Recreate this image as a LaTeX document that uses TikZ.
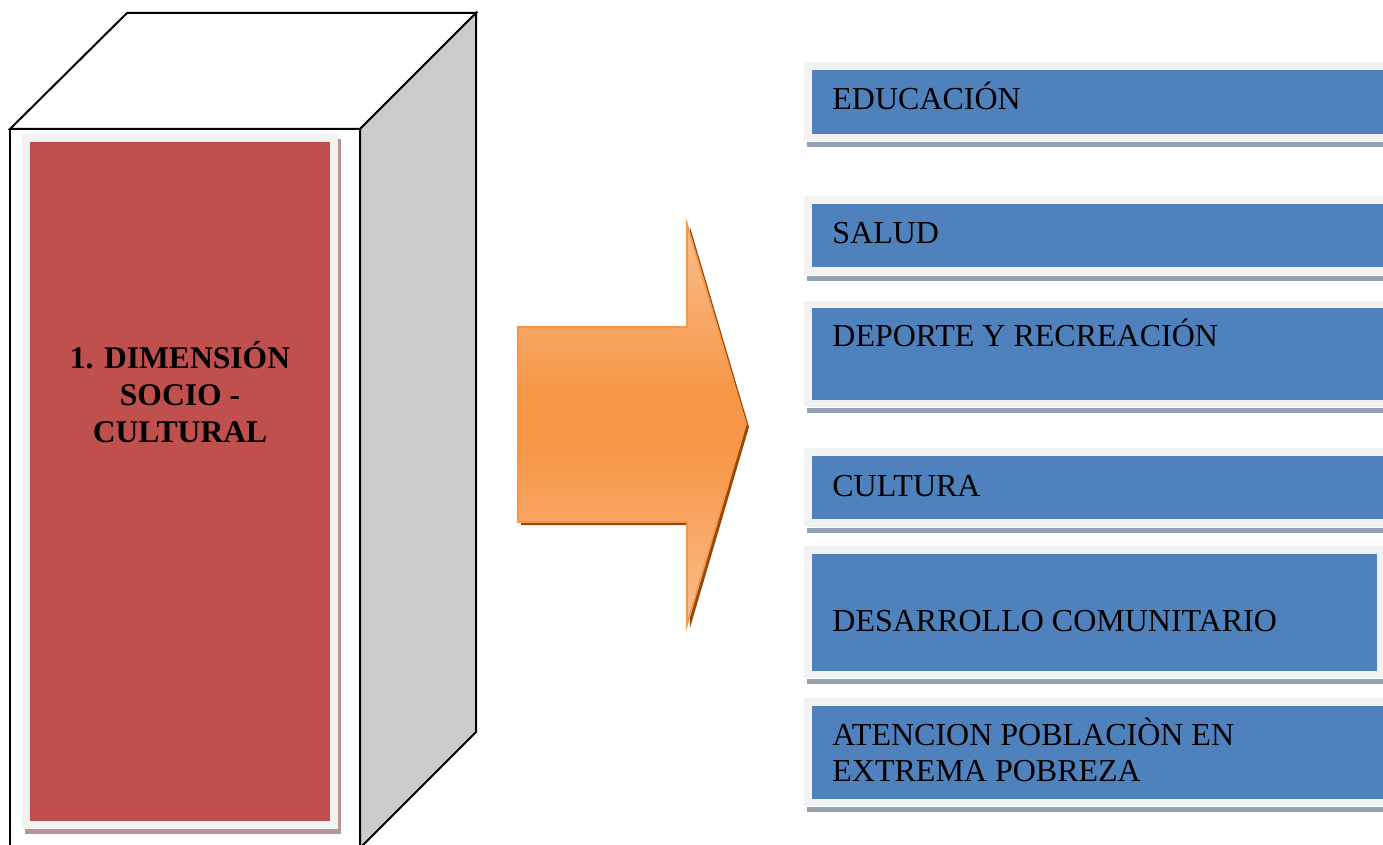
\documentclass[tikz,border=0pt]{standalone}
\usepackage{fontspec}
\setmainfont{Liberation Serif}
\definecolor{blueF}{HTML}{4F81BD}
\definecolor{paleF}{HTML}{F2F2F2}
\definecolor{blueShadow}{HTML}{93A2B3}
\definecolor{redF}{HTML}{C0504D}
\definecolor{redShadow}{HTML}{B89494}
\definecolor{cubeGrey}{HTML}{CCCCCC}
\definecolor{orLight}{HTML}{F9BE8F}
\definecolor{orMid}{HTML}{F79646}
\definecolor{orShadow}{HTML}{984807}
\tikzset{
  edge/.style={line width=1pt, line join=miter},
  itemtext/.style={anchor=base west, inner sep=0pt, font=\fontsize{16pt}{18pt}\selectfont, align=left},
  itemblue/.style={fill=blueF, draw=none},
  itempale/.style={fill=paleF, draw=none},
  itemshadow/.style={fill=blueShadow, draw=none}
}
\begin{document}
\begin{tikzpicture}[x=0.5pt,y=-0.5pt]
\useasboundingbox (0,0) rectangle (1383,845);
\clip (0,0) rectangle (1383,845);
% cube
\coordinate (fl) at (10,129);
\coordinate (fr) at (360,129);
\coordinate (bl) at (127,13);
\coordinate (br) at (476,13);
\coordinate (brb) at (476,732);
\coordinate (frb) at (360,848);
\coordinate (flb) at (10,850);
\draw[edge, fill=white] (fl) -- (bl) -- (br) -- (fr) -- cycle;
\draw[edge, fill=cubeGrey] (fr) -- (br) -- (brb) -- (frb) -- cycle;
\draw[edge] (flb) -- (fl) -- (fr) -- (frb);
% red panel
\fill[redShadow] (25,139) rectangle (341,834);
\fill[paleF] (22,134) rectangle (338,829);
\node[fill=redF, minimum width=150pt, minimum height=339.5pt, inner sep=0pt] (panel) at (180,481.5) {};
\node[font=\fontsize{15.8pt}{18.7pt}\selectfont\bfseries, align=center] (dim) at (180,392) {1. DIMENSIÓN\\SOCIO -\\CULTURAL};
% arrow
\begin{scope}[shift={(3,3)}]
\fill[orShadow] (518,327) -- (687,327) -- (687,224) -- (746,424) -- (687,625) -- (687,522) -- (518,522) -- cycle;
\end{scope}
\begin{scope}
\clip (518,327) -- (687,327) -- (687,224) -- (746,424) -- (687,625) -- (687,522) -- (518,522) -- cycle;
\foreach \i in {0,...,100}{
  \pgfmathsetmacro{\ya}{222+\i*4.06}
  \pgfmathsetmacro{\yb}{\ya+4.6}
  \pgfmathtruncatemacro{\t}{min(100,max(0,abs(\ya+2-424)-25)/1.75)}
  \colorlet{tmpor}{orLight!\t!orMid}
  \fill[tmpor] (515,\ya) rectangle (750,\yb);
}
\end{scope}
\draw[draw=orMid, line width=0.8pt, line join=miter]
  (518,327) -- (687,327) -- (687,224) -- (746,424) -- (687,625) -- (687,522) -- (518,522) -- cycle;
% items
\foreach \ot/\bt/\bb/\ob/\rr in {62/70/134/141/1400, 196/204/267/275/1400, 301/308/400/407/1400, 448/456/519/527/1400, 546/554/671/678/1377, 698/706/799/806/1400}{
  \fill[itemshadow] (807,\ob+1) rectangle (1400,\ob+6);
  \fill[itempale] (804,\ot) rectangle (1400,\ob);
  \fill[itemblue] (812,\bt) rectangle (\rr,\bb);
}
\node[itemtext] (edu) at (832,110) {EDUCACIÓN};
\node[itemtext] (sal) at (832,244) {SALUD};
\node[itemtext] (dep) at (832,347) {DEPORTE Y RECREACIÓN};
\node[itemtext] (cul) at (832,496) {CULTURA};
\node[itemtext] (des) at (832,631) {DESARROLLO COMUNITARIO};
\node[itemtext] (ate1) at (832,745) {ATENCION POBLACIÒN EN};
\node[itemtext] (ate2) at (832,781) {EXTREMA POBREZA};
\end{tikzpicture}
\end{document}
